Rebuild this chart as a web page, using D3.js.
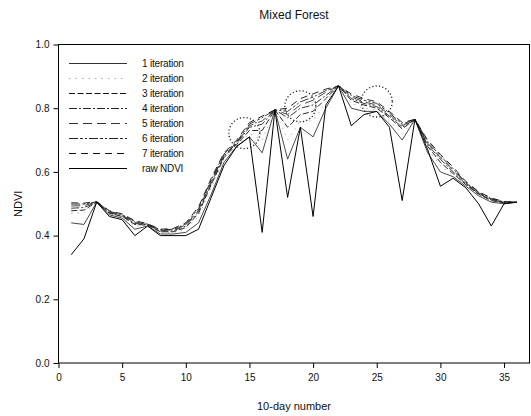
<!DOCTYPE html>
<html>
<head>
<meta charset="utf-8">
<script src="https://cdn.jsdelivr.net/npm/d3@7"></script>
<style>
  body { margin: 0; background: #fff; }
  svg { font-family: "Liberation Sans", Arial, sans-serif; }
  .axis path, .axis line { stroke: #000; stroke-width: 1; }
  .axis text { font-size: 10px; fill: #111; }
</style>
</head>
<body>
<div id="chart"></div>
<script>
// 10-day composite number
const days = d3.range(1, 37);

const rawNdvi = [0.34, 0.39, 0.505, 0.46, 0.45, 0.40, 0.43, 0.40, 0.40, 0.40, 0.42, 0.52,
  0.62, 0.68, 0.71, 0.41, 0.795, 0.52, 0.74, 0.46, 0.81, 0.87, 0.745, 0.78,
  0.79, 0.74, 0.51, 0.765, 0.67, 0.555, 0.58, 0.55, 0.50, 0.43, 0.50, 0.505];

const iter1 = [0.44, 0.435, 0.505, 0.465, 0.455, 0.42, 0.43, 0.405, 0.405, 0.41, 0.44, 0.53,
  0.63, 0.68, 0.71, 0.66, 0.795, 0.64, 0.74, 0.71, 0.80, 0.87, 0.80, 0.79,
  0.79, 0.75, 0.70, 0.765, 0.66, 0.60, 0.585, 0.555, 0.525, 0.505, 0.50, 0.505];
const iter2 = [0.471, 0.47, 0.505, 0.468, 0.458, 0.43, 0.432, 0.41, 0.41, 0.42, 0.46, 0.55,
  0.64, 0.683, 0.72, 0.70, 0.795, 0.70, 0.76, 0.76, 0.82, 0.87, 0.815, 0.80,
  0.795, 0.76, 0.72, 0.765, 0.67, 0.62, 0.59, 0.557, 0.527, 0.508, 0.502, 0.505];
const iter3 = [0.478, 0.48, 0.505, 0.47, 0.46, 0.435, 0.433, 0.412, 0.412, 0.425, 0.47, 0.56,
  0.645, 0.686, 0.73, 0.73, 0.795, 0.74, 0.78, 0.79, 0.83, 0.87, 0.825, 0.81,
  0.80, 0.77, 0.735, 0.765, 0.68, 0.63, 0.595, 0.56, 0.53, 0.51, 0.503, 0.505];
const iter4 = [0.486, 0.488, 0.505, 0.472, 0.462, 0.438, 0.434, 0.414, 0.415, 0.43, 0.475, 0.565,
  0.65, 0.69, 0.74, 0.75, 0.795, 0.77, 0.80, 0.81, 0.84, 0.87, 0.83, 0.815,
  0.805, 0.775, 0.74, 0.765, 0.685, 0.64, 0.60, 0.562, 0.532, 0.512, 0.504, 0.505];
const iter5 = [0.493, 0.494, 0.506, 0.474, 0.464, 0.441, 0.435, 0.416, 0.418, 0.433, 0.48, 0.57,
  0.653, 0.692, 0.745, 0.76, 0.795, 0.78, 0.81, 0.825, 0.85, 0.87, 0.835, 0.82,
  0.81, 0.78, 0.745, 0.765, 0.69, 0.645, 0.605, 0.565, 0.534, 0.514, 0.505, 0.505];
const iter6 = [0.499, 0.499, 0.506, 0.476, 0.466, 0.444, 0.436, 0.418, 0.42, 0.436, 0.485, 0.575,
  0.656, 0.695, 0.75, 0.77, 0.795, 0.79, 0.82, 0.835, 0.855, 0.87, 0.84, 0.825,
  0.815, 0.785, 0.75, 0.765, 0.695, 0.65, 0.61, 0.567, 0.536, 0.516, 0.506, 0.505];
const iter7 = [0.503, 0.502, 0.507, 0.478, 0.468, 0.447, 0.437, 0.42, 0.422, 0.44, 0.49, 0.58,
  0.66, 0.70, 0.755, 0.775, 0.795, 0.80, 0.83, 0.845, 0.86, 0.87, 0.845, 0.83,
  0.82, 0.79, 0.755, 0.765, 0.70, 0.655, 0.615, 0.57, 0.538, 0.518, 0.507, 0.505];

const seriesNames = ['1 iteration', '2 iteration', '3 iteration', '4 iteration',
  '5 iteration', '6 iteration', '7 iteration', 'raw NDVI'];
const seriesValues = [iter1, iter2, iter3, iter4, iter5, iter6, iter7, rawNdvi];

// dotted circles marking the corrected dips
const markX = [14.6, 19.0, 25.0];
const markY = [0.722, 0.806, 0.821];

const xTicks = [0, 5, 10, 15, 20, 25, 30, 35];
const yTicks = [0.0, 0.2, 0.4, 0.6, 0.8, 1.0];

// line look per series, same order as seriesNames
const dashes = ['none', '1.5,5', '6,2.5', '8,2,2,2', '9,5', '9,2,3,2,2,2', '7,5', 'none'];
const strokes = ['#333', '#aaa', '#111', '#222', '#333', '#222', '#111', '#000'];

const width = 531;
const height = 416;
const margin = { top: 44.5, right: 1, bottom: 53, left: 58.5 };

const svg = d3.select('#chart').append('svg')
  .attr('width', width)
  .attr('height', height);

const x = d3.scaleLinear().domain([0, 37]).range([margin.left, width - margin.right - 0.5]);
const y = d3.scaleLinear().domain([0, 1]).range([height - margin.bottom, margin.top]);

// frame
svg.append('rect')
  .attr('x', x(0))
  .attr('y', y(1))
  .attr('width', x(37) - x(0))
  .attr('height', y(0) - y(1))
  .attr('fill', 'none')
  .attr('stroke', '#000')
  .attr('stroke-width', 1);

svg.append('g')
  .attr('class', 'axis')
  .attr('transform', `translate(0,${y(0)})`)
  .call(d3.axisBottom(x).tickValues(xTicks).tickSize(5).tickPadding(6).tickFormat(d3.format('d')))
  .call((g) => g.select('.domain').remove());

svg.append('g')
  .attr('class', 'axis')
  .attr('transform', `translate(${x(0)},0)`)
  .call(d3.axisLeft(y).tickValues(yTicks).tickSize(5).tickPadding(4).tickFormat(d3.format('.1f')))
  .call((g) => g.select('.domain').remove());

const line = d3.line()
  .x((d, i) => x(days[i]))
  .y((d) => y(d));

svg.append('g')
  .selectAll('path')
  .data(seriesValues)
  .join('path')
  .attr('d', (d) => line(d))
  .attr('fill', 'none')
  .attr('stroke', (d, i) => strokes[i])
  .attr('stroke-width', (d, i) => (i === 7 ? 1 : 0.9))
  .attr('stroke-dasharray', (d, i) => dashes[i]);

svg.append('g')
  .selectAll('circle')
  .data(markX)
  .join('circle')
  .attr('cx', (d) => x(d))
  .attr('cy', (d, i) => y(markY[i]))
  .attr('r', 15.5)
  .attr('fill', 'none')
  .attr('stroke', '#222')
  .attr('stroke-width', 1.3)
  .attr('stroke-dasharray', '1.2,2.2');

// legend
const legend = svg.append('g');
const legendRow = legend.selectAll('g')
  .data(seriesNames)
  .join('g')
  .attr('transform', (d, i) => `translate(69,${63.5 + i * 15})`);

legendRow.append('line')
  .attr('x1', 0)
  .attr('x2', 58)
  .attr('stroke', (d, i) => strokes[i])
  .attr('stroke-width', 1)
  .attr('stroke-dasharray', (d, i) => dashes[i]);

legendRow.append('text')
  .attr('x', 73)
  .attr('y', 3.5)
  .attr('font-size', 10)
  .attr('letter-spacing', -0.2)
  .attr('fill', '#111')
  .text((d) => d);

svg.append('text')
  .attr('x', (x(0) + x(37)) / 2)
  .attr('y', 19)
  .attr('text-anchor', 'middle')
  .attr('font-size', 12)
  .attr('fill', '#111')
  .text('Mixed Forest');

svg.append('text')
  .attr('x', (x(0) + x(37)) / 2)
  .attr('y', 410)
  .attr('text-anchor', 'middle')
  .attr('font-size', 11)
  .attr('fill', '#111')
  .text('10-day number');

svg.append('text')
  .attr('transform', `translate(22,${(y(0) + y(1)) / 2}) rotate(-90)`)
  .attr('text-anchor', 'middle')
  .attr('font-size', 11)
  .attr('fill', '#111')
  .text('NDVI');
</script>
</body>
</html>
